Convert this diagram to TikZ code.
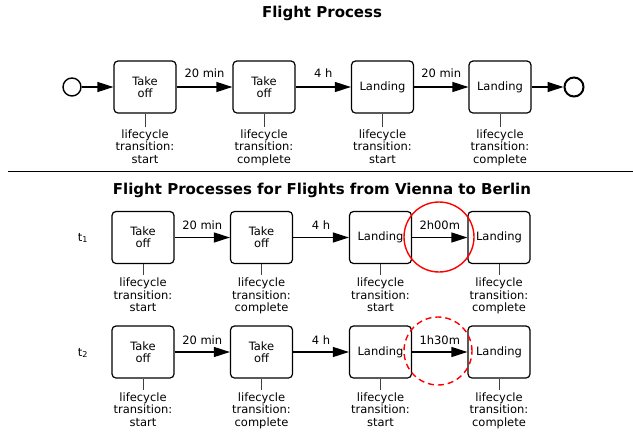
\documentclass[tikz,border=0pt]{standalone}
\usepackage{fontspec}
\setmainfont{DejaVu Sans}
\usetikzlibrary{positioning,arrows.meta}

\begin{document}
\begin{tikzpicture}[x=1pt,y=-1pt,
    >={Triangle[length=16pt,width=10pt]},
    task/.style={draw=black,line width=1.2pt,rounded corners=4pt,
      minimum width=62pt,minimum height=52pt,align=center,inner sep=1pt,
      font=\fontsize{11.5}{12}\selectfont},
    evt/.style={draw=black,circle,inner sep=0pt},
    flow/.style={draw=black,line width=1.2pt,->},
    lbl/.style={font=\fontsize{11.5}{12}\selectfont,inner sep=2pt},
    tick/.style={draw=black!75,line width=0.8pt},
    note/.style={align=center,inner sep=2.5pt,
      font=\fontsize{11.5}{12.5}\selectfont},
    ttl/.style={font=\fontsize{15}{17}\selectfont\bfseries},
    hl/.style={draw=red,circle,line width=1.4pt,minimum size=70pt,inner sep=0pt}
  ]
  \useasboundingbox (0,0) rectangle (633,440);

  % process model
  \node[ttl] (title) at (322,13) {Flight Process};
  \node[evt,line width=1.4pt,minimum size=18pt] (start) at (72,87) {};
  \node[task] (A) at (145,87) {Take\\off};
  \node[task] (B) at (264,87) {Take\\off};
  \node[task] (C) at (382.5,87) {Landing};
  \node[task] (D) at (500,87) {Landing};
  \node[evt,line width=2pt,minimum size=19pt] (stop) at (574,87) {};
  \draw[flow] (start) -- (A);
  \draw[flow] (A) -- node[lbl,above=7pt] (lAB) {20 min} (B);
  \draw[flow] (B) -- node[lbl,above=7pt] (lBC) {4 h} (C);
  \draw[flow] (C) -- node[lbl,above=7pt] (lCD) {20 min} (D);
  \draw[flow] (D) -- (stop);
  \draw[tick] (A.south) -- ++(0,13) node[note,below] (nA) {lifecycle\\transition:\\start};
  \draw[tick] (B.south) -- ++(0,13) node[note,below] (nB) {lifecycle\\transition:\\complete};
  \draw[tick] (C.south) -- ++(0,13) node[note,below] (nC) {lifecycle\\transition:\\start};
  \draw[tick] (D.south) -- ++(0,13) node[note,below] (nD) {lifecycle\\transition:\\complete};

  \draw[line width=0.9pt] (8,171) -- (633,171);

  % instances
  \node[ttl] (title2) at (322,190) {Flight Processes for Flights from Vienna to Berlin};

  \node[lbl] (t1) at (83,238) {t\textsubscript{1}};
  \node[task] (A1) at (143,237.5) {Take\\off};
  \node[task] (B1) at (261.5,237.5) {Take\\off};
  \node[task] (C1) at (380.5,237.5) {Landing};
  \node[task] (D1) at (499,237.5) {Landing};
  \draw[flow] (A1) -- node[lbl,above=5pt] (lAB1) {20 min} (B1);
  \draw[flow] (B1) -- node[lbl,above=5pt] (lBC1) {4 h} (C1);
  \draw[flow] (C1) -- node[lbl,above=5pt] (lCD1) {2h00m} (D1);
  \draw[tick] (A1.south) -- ++(0,11) node[note,below] (nA1) {lifecycle\\transition:\\start};
  \draw[tick] (B1.south) -- ++(0,11) node[note,below] (nB1) {lifecycle\\transition:\\complete};
  \draw[tick] (C1.south) -- ++(0,11) node[note,below] (nC1) {lifecycle\\transition:\\start};
  \draw[tick] (D1.south) -- ++(0,11) node[note,below] (nD1) {lifecycle\\transition:\\complete};
  \node[hl] (h1) at (439,237) {};

  \node[lbl] (t2) at (83,353) {t\textsubscript{2}};
  \node[task] (A2) at (143,352) {Take\\off};
  \node[task] (B2) at (261.5,352) {Take\\off};
  \node[task] (C2) at (380.5,352) {Landing};
  \node[task] (D2) at (499,352) {Landing};
  \draw[flow] (A2) -- node[lbl,above=5pt] (lAB2) {20 min} (B2);
  \draw[flow] (B2) -- node[lbl,above=5pt] (lBC2) {4 h} (C2);
  \draw[flow] (C2) -- node[lbl,above=5pt] (lCD2) {1h30m} (D2);
  \draw[tick] (A2.south) -- ++(0,11) node[note,below] (nA2) {lifecycle\\transition:\\start};
  \draw[tick] (B2.south) -- ++(0,11) node[note,below] (nB2) {lifecycle\\transition:\\complete};
  \draw[tick] (C2.south) -- ++(0,11) node[note,below] (nC2) {lifecycle\\transition:\\start};
  \draw[tick] (D2.south) -- ++(0,11) node[note,below] (nD2) {lifecycle\\transition:\\complete};
  \node[hl,dash pattern=on 6pt off 4pt,minimum size=68pt] (h2) at (438,351) {};
\end{tikzpicture}
\end{document}
